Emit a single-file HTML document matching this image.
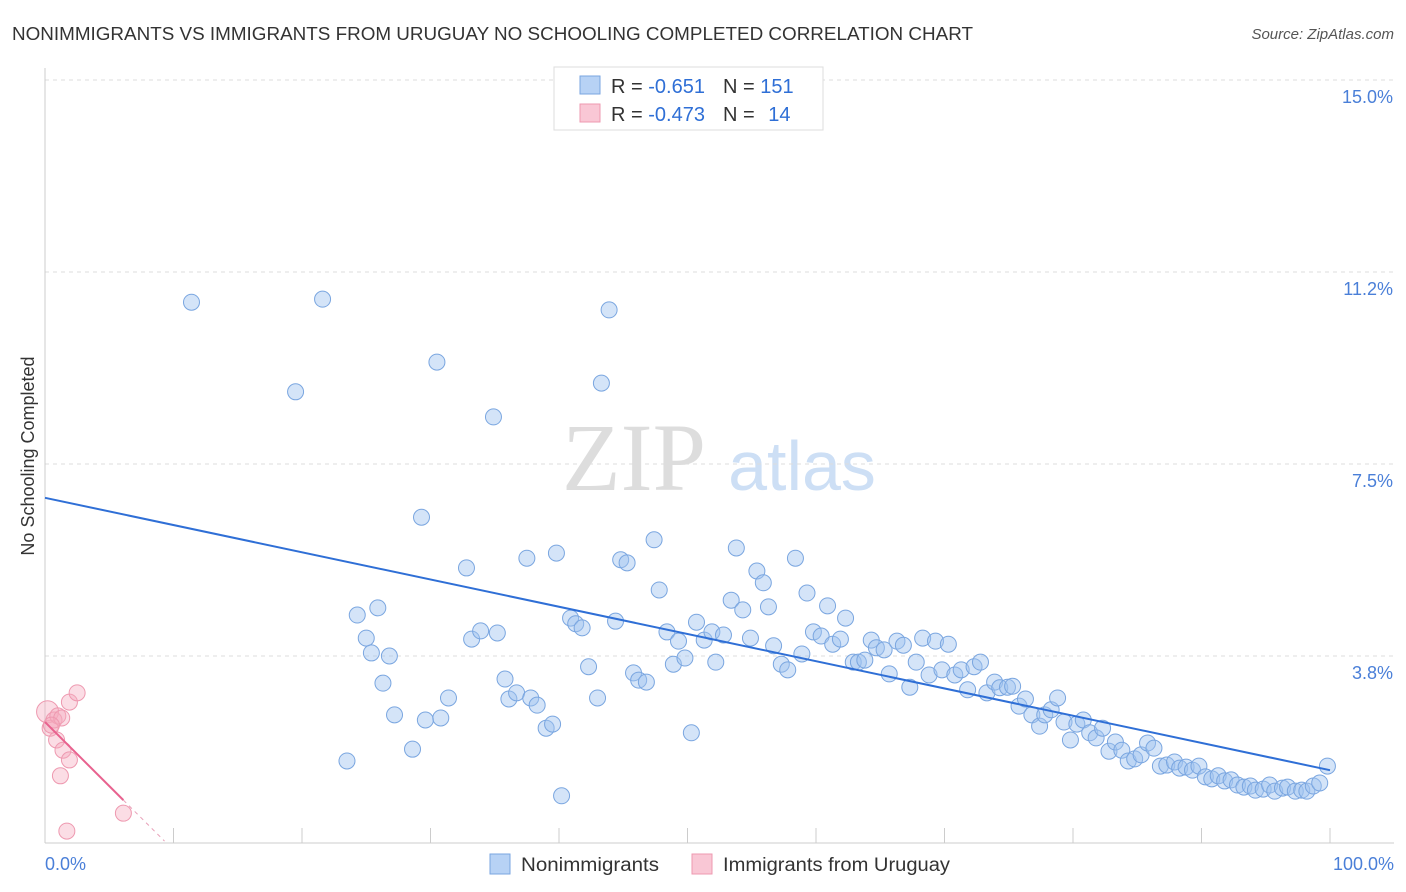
<!DOCTYPE html>
<html><head><meta charset="utf-8"><style>
body{margin:0;background:#fff;font-family:"Liberation Sans",sans-serif}
svg{display:block}
</style></head><body>
<svg id="chart" width="1406" height="892">
<text x="12" y="40" font-size="18" fill="#333" textLength="961" lengthAdjust="spacingAndGlyphs">NONIMMIGRANTS VS IMMIGRANTS FROM URUGUAY NO SCHOOLING COMPLETED CORRELATION CHART</text>
<text x="1394" y="39" font-size="15" fill="#555" font-style="italic" text-anchor="end">Source: ZipAtlas.com</text>
<text x="634" y="490" font-size="96" fill="#ddd" font-family="Liberation Serif,serif" text-anchor="middle">ZIP</text>
<text x="802" y="490" font-size="70" fill="#cddff5" text-anchor="middle">atlas</text>
<g id="grid"></g><g id="marks"></g>
<text transform="translate(34,456) rotate(-90)" font-size="18" fill="#333" text-anchor="middle">No Schooling Completed</text>
<text x="45" y="870" font-size="18" fill="#4a7fd8">0.0%</text>
<text x="1394" y="870" font-size="18" fill="#4a7fd8" text-anchor="end">100.0%</text>
<g>
<rect x="554" y="67" width="269" height="63" fill="#fff" stroke="#ddd"/>
<rect x="580" y="76" width="20" height="18" fill="#b7d2f5" stroke="#7aa6e0"/>
<rect x="580" y="104" width="20" height="18" fill="#f9c7d5" stroke="#ee99b0"/>
<text x="611" y="93" font-size="20" fill="#333">R = <tspan fill="#2f6fd6">-0.651</tspan><tspan dx="18">N = </tspan><tspan fill="#2f6fd6">151</tspan></text>
<text x="611" y="121" font-size="20" fill="#333">R = <tspan fill="#2f6fd6">-0.473</tspan><tspan dx="18">N = </tspan><tspan fill="#2f6fd6" dx="8">14</tspan></text>
</g>
<g>
<rect x="490" y="854" width="20" height="20" fill="#b7d2f5" stroke="#7aa6e0"/>
<text x="521" y="871" font-size="19" fill="#333" textLength="138" lengthAdjust="spacingAndGlyphs">Nonimmigrants</text>
<rect x="692" y="854" width="20" height="20" fill="#f9c7d5" stroke="#ee99b0"/>
<text x="723" y="871" font-size="19" fill="#333" textLength="227" lengthAdjust="spacingAndGlyphs">Immigrants from Uruguay</text>
</g>
</svg>
<script>
const yTicks=[3.75,7.5,11.25,15];
const yTickLabels=["3.8%","7.5%","11.2%","15.0%"];
const xTicks=[10,20,30,40,50,60,70,80,90,100];
const blueX=[11.4,21.6,43.9,19.5,30.5,43.3,34.9,29.3,32.8,37.5,39.8,44.8,45.3,47.4,47.8,24.3,25.9,25.0,25.4,26.8,26.3,27.2,23.5,28.6,29.6,30.8,31.4,33.2,33.9,35.2,35.8,36.1,36.7,37.8,38.3,39.0,39.5,40.2,40.9,41.3,41.8,42.3,43.0,44.4,45.8,46.2,46.8,48.4,48.9,49.3,49.8,50.3,50.7,51.3,51.9,52.2,52.8,53.4,53.8,54.3,54.9,55.4,55.9,56.3,56.7,57.3,57.8,58.4,58.9,59.3,59.8,60.4,60.9,61.3,61.9,62.3,62.9,63.3,63.8,64.3,64.7,65.3,65.7,66.3,66.8,67.3,67.8,68.3,68.8,69.3,69.8,70.3,70.8,71.3,71.8,72.3,72.8,73.3,73.9,74.3,74.9,75.3,75.8,76.3,76.8,77.4,77.8,78.3,78.8,79.3,79.8,80.3,80.8,81.3,81.8,82.3,82.8,83.3,83.8,84.3,84.8,85.3,85.8,86.3,86.8,87.3,87.9,88.3,88.8,89.3,89.8,90.3,90.8,91.3,91.8,92.3,92.8,93.3,93.8,94.2,94.8,95.3,95.7,96.3,96.7,97.3,97.8,98.2,98.7,99.2,99.8];
const blueY=[10.66,10.72,10.51,8.91,9.49,9.08,8.42,6.46,5.47,5.66,5.76,5.63,5.57,6.02,5.04,4.55,4.69,4.10,3.81,3.75,3.22,2.60,1.70,1.93,2.50,2.54,2.93,4.08,4.24,4.20,3.30,2.91,3.03,2.93,2.79,2.34,2.42,1.02,4.49,4.38,4.30,3.54,2.93,4.43,3.42,3.28,3.24,4.22,3.59,4.04,3.71,2.25,4.41,4.06,4.22,3.63,4.16,4.84,5.86,4.65,4.10,5.41,5.18,4.71,3.95,3.59,3.48,5.66,3.79,4.98,4.22,4.14,4.73,3.98,4.08,4.49,3.63,3.63,3.67,4.06,3.91,3.87,3.40,4.04,3.96,3.14,3.63,4.10,3.38,4.04,3.48,3.98,3.38,3.48,3.09,3.54,3.63,3.03,3.24,3.13,3.14,3.16,2.77,2.91,2.60,2.38,2.60,2.70,2.93,2.46,2.11,2.42,2.50,2.25,2.15,2.34,1.89,2.07,1.91,1.70,1.74,1.82,2.05,1.95,1.60,1.62,1.68,1.56,1.58,1.52,1.60,1.39,1.35,1.41,1.31,1.33,1.23,1.19,1.21,1.13,1.15,1.23,1.11,1.17,1.19,1.11,1.13,1.11,1.21,1.27,1.60];
const pinkX=[0.2,0.4,0.7,0.9,1.0,1.3,1.2,1.4,1.9,1.9,2.5,1.7,6.1,0.5];
const pinkY=[2.66,2.34,2.5,2.11,2.58,2.54,1.41,1.91,1.72,2.85,3.03,0.33,0.68,2.40];
const blueLine=[6.84,1.52];
const pinkLine=[2.46,-0.25];
const X=v=>45+v*12.85, Y=v=>848-v*51.2;
const NS="http://www.w3.org/2000/svg";
function mk(t,a,p){const e=document.createElementNS(NS,t);for(const k in a)e.setAttribute(k,a[k]);p.appendChild(e);return e;}
const grid=document.getElementById('grid'),marks=document.getElementById('marks');
yTicks.forEach((t,i)=>{
 const l=mk('line',{x1:45,x2:1394,y1:Y(t),y2:Y(t),stroke:'#ddd','stroke-dasharray':'4,4'},grid);
 
 
 const tx=mk('text',{x:1393,y:Y(t)+23,'font-size':18,fill:'#4a7fd8','text-anchor':'end'},grid);
 tx.textContent=yTickLabels[i];
 
 
});
const ax=mk('line',{x1:45,x2:1394,y1:843,y2:843,stroke:'#ccc'},grid);


const ay=mk('line',{x1:45,x2:45,y1:68,y2:843,stroke:'#ccc'},grid);


xTicks.forEach(t=>{
 const l=mk('line',{x1:X(t),x2:X(t),y1:828,y2:843,stroke:'#ccc'},grid);
 
 
});
blueX.forEach((x,i)=>{
 const c=mk('circle',{cx:X(x),cy:Y(blueY[i]),r:8,fill:'rgba(160,196,240,0.45)',stroke:'#7aa6e0','stroke-width':1},marks);
 
 
});
pinkX.forEach((x,i)=>{
 const c=mk('circle',{cx:X(x),cy:Y(pinkY[i]),r:i==0?11:8,fill:'rgba(245,170,190,0.4)',stroke:'#ee99b0','stroke-width':1},marks);
 
 
});
const bl=mk('line',{x1:X(0),y1:Y(blueLine[0]),x2:X(100),y2:Y(blueLine[1]),stroke:'#2f6fd6','stroke-width':2},marks);


const pl=mk('line',{x1:X(0),y1:Y(pinkLine[0]),x2:X(6.1),y2:Y(pinkLine[0]+pinkLine[1]*6.1),stroke:'#e8628f','stroke-width':2},marks);


const pd=mk('line',{x1:X(6.1),y1:Y(pinkLine[0]+pinkLine[1]*6.1),x2:X(9.3),y2:Y(pinkLine[0]+pinkLine[1]*9.3),stroke:'#e8a0b8','stroke-width':1,'stroke-dasharray':'4,4'},marks);


</script>
</body></html>
